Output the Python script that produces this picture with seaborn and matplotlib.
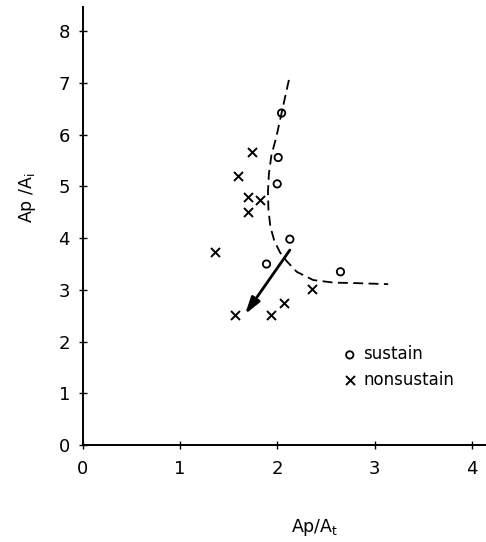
import pandas as pd
import matplotlib
matplotlib.use("Agg")
import matplotlib.pyplot as plt
import seaborn as sns

# Date
sustain_x = [2.045, 2.01, 2.00, 2.13, 1.89, 2.65]
sustain_y = [6.42, 5.56, 5.05, 3.98, 3.50, 3.35]

nonsustain_x = [1.74, 1.60, 1.70, 1.70, 1.82, 1.36, 2.36, 2.07, 1.94, 1.57]
nonsustain_y = [5.67, 5.21, 4.79, 4.51, 4.74, 3.73, 3.01, 2.74, 2.51, 2.51]

# Curba de separare (linie intrerupta)
curve_x = [2.12, 2.045, 1.99, 1.94, 1.915, 1.905, 1.91, 1.93, 1.97, 2.03, 2.10, 2.20, 2.37, 2.58, 2.82, 3.14]
curve_y = [7.06, 6.42, 5.95, 5.60, 5.25, 4.90, 4.55, 4.22, 3.95, 3.72, 3.55, 3.35, 3.19, 3.14, 3.13, 3.11]

# Sageata
arrow_start = (2.13, 3.77)
arrow_end = (1.67, 2.53)

x_ticks = [0, 1, 2, 3, 4]
y_ticks = [0, 1, 2, 3, 4, 5, 6, 7, 8]

sns.set_style("ticks")
plt.rcParams["font.family"] = ["DejaVu Sans"]
plt.rcParams["text.color"] = "black"
plt.rcParams["axes.labelcolor"] = "black"
plt.rcParams["xtick.color"] = "black"
plt.rcParams["ytick.color"] = "black"
plt.rcParams["axes.edgecolor"] = "black"

sustain = pd.DataFrame({"x": sustain_x, "y": sustain_y})
nonsustain = pd.DataFrame({"x": nonsustain_x, "y": nonsustain_y})
curve = pd.DataFrame({"x": curve_x, "y": curve_y})

fig = plt.figure(figsize=(4.86, 5.42), dpi=100)
ax = fig.add_axes([0.1698, 0.179, 0.8292, 0.808])

sns.lineplot(data=curve, x="x", y="y", sort=False, color="black", lw=1.3,
             dashes=False, ax=ax, zorder=2)
ax.lines[-1].set_dashes([5.5, 3.0])

sns.scatterplot(data=sustain, x="x", y="y", marker="o", s=28, facecolors="none",
                edgecolor="black", linewidth=1.3, ax=ax, label="sustain", zorder=3)
sns.scatterplot(data=nonsustain, x="x", y="y", marker="x", s=42, color="black",
                linewidth=1.4, ax=ax, label="nonsustain", zorder=3)

ax.annotate("", xy=arrow_end, xytext=arrow_start,
            arrowprops=dict(arrowstyle="-|>,head_length=1.0,head_width=0.3",
                            color="black", lw=2.0, shrinkA=0, shrinkB=0))

ax.set_xlim(0, 4.14)
ax.set_ylim(0, 8.47)
ax.set_xticks(x_ticks)
ax.set_yticks(y_ticks)
ax.tick_params(direction="inout", length=6, width=1, labelsize=13, pad=6)
ax.tick_params(axis="x", pad=8)
sns.despine(ax=ax)
for s in ["left", "bottom"]:
    ax.spines[s].set_linewidth(1.4)

ax.set_xlabel(r"Ap/A$_\mathregular{t}$", fontsize=12.5)
ax.set_ylabel(r"Ap /A$_\mathregular{i}$", fontsize=12.5)
ax.xaxis.set_label_coords(0.577, -0.165)
ax.yaxis.set_label_coords(-0.11, 0.564)

leg = ax.legend(loc="center left", bbox_to_anchor=(0.63, 0.178), frameon=False,
                fontsize=12, handlelength=0.6, handletextpad=0.5,
                labelspacing=0.45, borderpad=0)

fig.savefig("out.png", dpi=100)
